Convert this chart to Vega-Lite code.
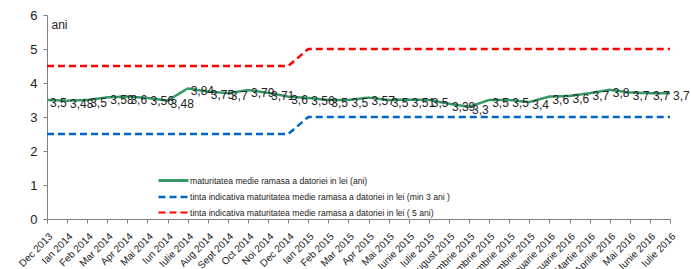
{
  "$schema": "https://vega.github.io/schema/vega-lite/v6.json",
  "width": 623,
  "height": 204,
  "autosize": {"type": "none"},
  "padding": {"left": 47, "top": 15, "right": 21, "bottom": 50},
  "background": "white",
  "config": {
    "view": {"stroke": null},
    "font": "Liberation Sans",
    "axis": {"domainColor": "#808080", "tickColor": "#808080", "labelColor": "#222", "grid": false}
  },
  "data": {
    "values": [
      {"m": "Dec 2013", "s": "g", "v": 3.5, "t": "3,5"},
      {"m": "Ian 2014", "s": "g", "v": 3.48, "t": "3,48"},
      {"m": "Feb 2014", "s": "g", "v": 3.5, "t": "3,5"},
      {"m": "Mar 2014", "s": "g", "v": 3.58, "t": "3,58"},
      {"m": "Apr 2014", "s": "g", "v": 3.6, "t": "3,6"},
      {"m": "Mai 2014", "s": "g", "v": 3.56, "t": "3,56"},
      {"m": "Iun 2014", "s": "g", "v": 3.48, "t": "3,48"},
      {"m": "Iulie 2014", "s": "g", "v": 3.84, "t": "3,84"},
      {"m": "Aug 2014", "s": "g", "v": 3.75, "t": "3,75"},
      {"m": "Sept 2014", "s": "g", "v": 3.7, "t": "3,7"},
      {"m": "Oct 2014", "s": "g", "v": 3.79, "t": "3,79"},
      {"m": "Noi 2014", "s": "g", "v": 3.71, "t": "3,71"},
      {"m": "Dec 2014", "s": "g", "v": 3.6, "t": "3,6"},
      {"m": "Ian 2015", "s": "g", "v": 3.56, "t": "3,56"},
      {"m": "Feb 2015", "s": "g", "v": 3.5, "t": "3,5"},
      {"m": "Mar 2015", "s": "g", "v": 3.5, "t": "3,5"},
      {"m": "Apr 2015", "s": "g", "v": 3.57, "t": "3,57"},
      {"m": "Mai 2015", "s": "g", "v": 3.5, "t": "3,5"},
      {"m": "Iunie 2015", "s": "g", "v": 3.51, "t": "3,51"},
      {"m": "Iulie 2015", "s": "g", "v": 3.5, "t": "3,5"},
      {"m": "August 2015", "s": "g", "v": 3.39, "t": "3,39"},
      {"m": "Septembrie 2015", "s": "g", "v": 3.3, "t": "3,3"},
      {"m": "Octombrie 2015", "s": "g", "v": 3.5, "t": "3,5"},
      {"m": "Noiembrie 2015", "s": "g", "v": 3.5, "t": "3,5"},
      {"m": "Decembrie 2015", "s": "g", "v": 3.44, "t": "3,4"},
      {"m": "Ianuarie 2016", "s": "g", "v": 3.6, "t": "3,6"},
      {"m": "Februarie 2016", "s": "g", "v": 3.62, "t": "3,6"},
      {"m": "Martie 2016", "s": "g", "v": 3.7, "t": "3,7"},
      {"m": "Aprilie 2016", "s": "g", "v": 3.8, "t": "3,8"},
      {"m": "Mai 2016", "s": "g", "v": 3.72, "t": "3,7"},
      {"m": "Iunie 2016", "s": "g", "v": 3.7, "t": "3,7"},
      {"m": "Iulie 2016", "s": "g", "v": 3.7, "t": "3,7"},
      {"m": "Dec 2013", "s": "b", "v": 2.5},
      {"m": "Ian 2014", "s": "b", "v": 2.5},
      {"m": "Feb 2014", "s": "b", "v": 2.5},
      {"m": "Mar 2014", "s": "b", "v": 2.5},
      {"m": "Apr 2014", "s": "b", "v": 2.5},
      {"m": "Mai 2014", "s": "b", "v": 2.5},
      {"m": "Iun 2014", "s": "b", "v": 2.5},
      {"m": "Iulie 2014", "s": "b", "v": 2.5},
      {"m": "Aug 2014", "s": "b", "v": 2.5},
      {"m": "Sept 2014", "s": "b", "v": 2.5},
      {"m": "Oct 2014", "s": "b", "v": 2.5},
      {"m": "Noi 2014", "s": "b", "v": 2.5},
      {"m": "Dec 2014", "s": "b", "v": 2.5},
      {"m": "Ian 2015", "s": "b", "v": 3},
      {"m": "Feb 2015", "s": "b", "v": 3},
      {"m": "Mar 2015", "s": "b", "v": 3},
      {"m": "Apr 2015", "s": "b", "v": 3},
      {"m": "Mai 2015", "s": "b", "v": 3},
      {"m": "Iunie 2015", "s": "b", "v": 3},
      {"m": "Iulie 2015", "s": "b", "v": 3},
      {"m": "August 2015", "s": "b", "v": 3},
      {"m": "Septembrie 2015", "s": "b", "v": 3},
      {"m": "Octombrie 2015", "s": "b", "v": 3},
      {"m": "Noiembrie 2015", "s": "b", "v": 3},
      {"m": "Decembrie 2015", "s": "b", "v": 3},
      {"m": "Ianuarie 2016", "s": "b", "v": 3},
      {"m": "Februarie 2016", "s": "b", "v": 3},
      {"m": "Martie 2016", "s": "b", "v": 3},
      {"m": "Aprilie 2016", "s": "b", "v": 3},
      {"m": "Mai 2016", "s": "b", "v": 3},
      {"m": "Iunie 2016", "s": "b", "v": 3},
      {"m": "Iulie 2016", "s": "b", "v": 3},
      {"m": "Dec 2013", "s": "r", "v": 4.5},
      {"m": "Ian 2014", "s": "r", "v": 4.5},
      {"m": "Feb 2014", "s": "r", "v": 4.5},
      {"m": "Mar 2014", "s": "r", "v": 4.5},
      {"m": "Apr 2014", "s": "r", "v": 4.5},
      {"m": "Mai 2014", "s": "r", "v": 4.5},
      {"m": "Iun 2014", "s": "r", "v": 4.5},
      {"m": "Iulie 2014", "s": "r", "v": 4.5},
      {"m": "Aug 2014", "s": "r", "v": 4.5},
      {"m": "Sept 2014", "s": "r", "v": 4.5},
      {"m": "Oct 2014", "s": "r", "v": 4.5},
      {"m": "Noi 2014", "s": "r", "v": 4.5},
      {"m": "Dec 2014", "s": "r", "v": 4.5},
      {"m": "Ian 2015", "s": "r", "v": 5},
      {"m": "Feb 2015", "s": "r", "v": 5},
      {"m": "Mar 2015", "s": "r", "v": 5},
      {"m": "Apr 2015", "s": "r", "v": 5},
      {"m": "Mai 2015", "s": "r", "v": 5},
      {"m": "Iunie 2015", "s": "r", "v": 5},
      {"m": "Iulie 2015", "s": "r", "v": 5},
      {"m": "August 2015", "s": "r", "v": 5},
      {"m": "Septembrie 2015", "s": "r", "v": 5},
      {"m": "Octombrie 2015", "s": "r", "v": 5},
      {"m": "Noiembrie 2015", "s": "r", "v": 5},
      {"m": "Decembrie 2015", "s": "r", "v": 5},
      {"m": "Ianuarie 2016", "s": "r", "v": 5},
      {"m": "Februarie 2016", "s": "r", "v": 5},
      {"m": "Martie 2016", "s": "r", "v": 5},
      {"m": "Aprilie 2016", "s": "r", "v": 5},
      {"m": "Mai 2016", "s": "r", "v": 5},
      {"m": "Iunie 2016", "s": "r", "v": 5},
      {"m": "Iulie 2016", "s": "r", "v": 5}
    ]
  },
  "encoding": {
    "x": {
      "field": "m", "type": "ordinal", "sort": null,
      "scale": {"type": "point", "padding": 0},
      "axis": {"title": null, "labelAngle": -45, "labelFontSize": 10, "tickSize": 4, "labelPadding": 8}
    },
    "y": {
      "field": "v", "type": "quantitative",
      "scale": {"domain": [0, 6]},
      "axis": {"values": [0, 1, 2, 3, 4, 5, 6], "labelFontSize": 13, "tickSize": 4, "labelPadding": 6,
        "title": "ani", "titleAngle": 0, "titleFontWeight": "normal", "titleFontSize": 12,
        "titleAlign": "left", "titleBaseline": "top", "titleX": 4, "titleY": 4, "titleColor": "#222"}
    }
  },
  "layer": [
    {
      "mark": {"type": "line", "strokeWidth": 2.5},
      "encoding": {
        "color": {
          "field": "s", "type": "nominal",
          "scale": {"domain": ["g", "b", "r"], "range": ["#339966", "#0066cc", "#ff0000"]},
          "legend": {
            "title": null, "orient": "none", "legendX": 119, "legendY": 158, "padding": 0,
            "symbolType": "M-2.5,0H2.5", "symbolSize": 144, "symbolStrokeWidth": 2.5,
            "labelOffset": 9, "labelFontSize": 8.6, "labelLimit": 500, "labelColor": "#222", "rowPadding": 2.5,
            "labelExpr": "datum.value == 'g' ? 'maturitatea medie ramasa a datoriei in lei (ani)' : datum.value == 'b' ? 'tinta indicativa maturitatea medie ramasa a datoriei in lei  (min 3 ani )' : 'tinta indicativa maturitatea medie ramasa a datoriei in lei  ( 5 ani)'"
          }
        },
        "strokeDash": {
          "field": "s", "type": "nominal",
          "scale": {"domain": ["g", "b", "r"], "range": [[1, 0], [7, 4], [7, 4]]},
          "legend": null
        },
        "strokeWidth": {
          "field": "s", "type": "nominal",
          "scale": {"domain": ["g", "b", "r"], "range": [2.8, 2.2, 2.2]},
          "legend": null
        }
      }
    },
    {
      "transform": [{"filter": "datum.s == 'g'"}],
      "mark": {"type": "text", "align": "left", "baseline": "middle", "dx": 3, "dy": 3, "fontSize": 12, "color": "#222"},
      "encoding": {"text": {"field": "t"}}
    }
  ]
}
